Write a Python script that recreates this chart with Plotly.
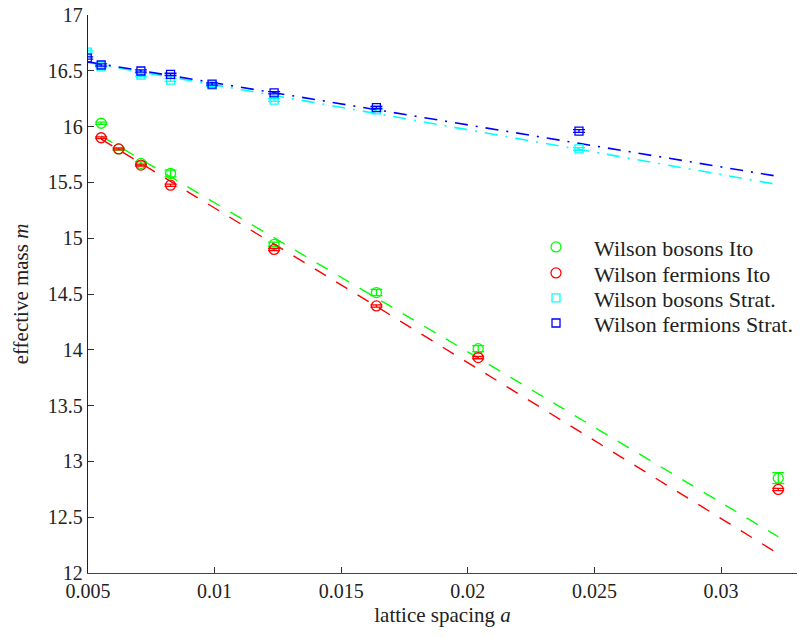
import plotly.graph_objects as go

# ---- data ----
a_ito = [0.00552, 0.00621, 0.00709, 0.00826, 0.01235, 0.01639, 0.02041, 0.03226]
m_bosons_ito = [16.03, 15.80, 15.67, 15.58, 14.944, 14.513, 14.01, 12.85]
e_bosons_ito = [0.010, 0.010, 0.015, 0.030, 0.020, 0.028, 0.027, 0.050]
m_fermions_ito = [15.90, 15.80, 15.655, 15.475, 14.899, 14.393, 13.93, 12.749]
e_fermions_ito = [0.008, 0.008, 0.008, 0.010, 0.010, 0.010, 0.010, 0.010]

a_strat = [0.00497, 0.00552, 0.00709, 0.00826, 0.0099, 0.01235, 0.01639, 0.02439]
m_bosons_strat = [16.668, 16.536, 16.462, 16.417, 16.372, 16.238, 16.15, 15.80]
e_bosons_strat = [0.010, 0.010, 0.012, 0.012, 0.012, 0.012, 0.012, 0.012]
m_fermions_strat = [16.614, 16.552, 16.498, 16.468, 16.381, 16.303, 16.17, 15.96]
e_fermions_strat = [0.010, 0.010, 0.010, 0.010, 0.010, 0.010, 0.010, 0.012]

# fit curves
fit_a_bos_ito = [0.00552, 0.01975, 0.03226]
fit_m_bos_ito = [15.916, 14.015, 12.325]
fit_a_fer_ito = [0.00552, 0.01613, 0.03226]
fit_m_fer_ito = [15.888, 14.425, 12.173]
fit_a_bos_strat = [0.005, 0.02309, 0.0322]
fit_m_bos_strat = [16.574, 15.852, 15.482]
fit_a_fer_strat = [0.005, 0.02285, 0.0322]
fit_m_fer_strat = [16.58, 15.909, 15.556]

x_ticks = [0.005, 0.01, 0.015, 0.02, 0.025, 0.03]
x_tick_text = ["0.005", "0.01", "0.015", "0.02", "0.025", "0.03"]
y_ticks = [12, 12.5, 13, 13.5, 14, 14.5, 15, 15.5, 16, 16.5, 17]
y_tick_text = ["12", "12.5", "13", "13.5", "14", "14.5", "15", "15.5", "16", "16.5", "17"]

labels = ["Wilson bosons Ito", "Wilson fermions Ito", "Wilson bosons Strat.", "Wilson fermions Strat."]
colors = ["#00ff00", "#ff0000", "#00ffff", "#0000ff"]
legend_ids = ["legend", "legend2", "legend3", "legend4"]

FONT = "Liberation Serif"
TXT = "#222222"
fig = go.Figure()

# fit lines
fig.add_trace(go.Scatter(x=fit_a_bos_ito, y=fit_m_bos_ito, mode="lines", showlegend=False,
                         line=dict(color=colors[0], width=1.4, dash="13px,12px"), hoverinfo="skip"))
fig.add_trace(go.Scatter(x=fit_a_fer_ito, y=fit_m_fer_ito, mode="lines", showlegend=False,
                         line=dict(color=colors[1], width=1.4, dash="13px,12px"), hoverinfo="skip"))
fig.add_trace(go.Scatter(x=fit_a_bos_strat, y=fit_m_bos_strat, mode="lines", showlegend=False,
                         line=dict(color=colors[2], width=1.6, dash="13px,8px,2px,8px"), hoverinfo="skip"))
fig.add_trace(go.Scatter(x=fit_a_fer_strat, y=fit_m_fer_strat, mode="lines", showlegend=False,
                         line=dict(color=colors[3], width=1.6, dash="13px,8px,2px,8px"), hoverinfo="skip"))

series = [
    (a_ito, m_bosons_ito, e_bosons_ito, "circle-open", 10),
    (a_ito, m_fermions_ito, e_fermions_ito, "circle-open", 10),
    (a_strat, m_bosons_strat, e_bosons_strat, "square-open", 8),
    (a_strat, m_fermions_strat, e_fermions_strat, "square-open", 8),
]
for (xs, ys, es, sym, sz), name, col, lg in zip(series, labels, colors, legend_ids):
    fig.add_trace(go.Scatter(
        x=xs, y=ys, mode="markers", name=name, legend=lg,
        marker=dict(symbol=sym, size=sz, color=col, line=dict(color=col, width=1.3)),
        error_y=dict(type="data", array=es, visible=True, color=col, thickness=1.3, width=6),
    ))

legend_y = [0.584, 0.5374, 0.4926, 0.4477]
legend_common = dict(x=0.6065, xanchor="left", yanchor="middle",
                     bgcolor="rgba(0,0,0,0)", borderwidth=0,
                     font=dict(family=FONT, size=22, color=TXT), itemwidth=66)

fig.update_layout(
    width=806, height=637,
    margin=dict(l=80, r=17, t=7, b=72, autoexpand=False),
    paper_bgcolor="white", plot_bgcolor="white",
    font=dict(family=FONT, size=20, color=TXT),
    showlegend=True,
    legend=dict(y=legend_y[0], **legend_common),
    legend2=dict(y=legend_y[1], **legend_common),
    legend3=dict(y=legend_y[2], **legend_common),
    legend4=dict(y=legend_y[3], **legend_common),
    xaxis=dict(range=[0.005, 0.0330], tickvals=x_ticks, ticktext=x_tick_text,
               ticks="inside", ticklen=6, tickcolor="#333333", tickwidth=1,
               showline=True, linecolor="#444444", linewidth=1.3, mirror=False,
               showgrid=False, zeroline=False, automargin=False,
               ticklabeloverflow="allow",
               title=dict(text="lattice spacing <i>a</i>", font=dict(family=FONT, size=21), standoff=6),
               tickfont=dict(family=FONT, size=20)),
    yaxis=dict(range=[12, 17], tickvals=y_ticks, ticktext=y_tick_text,
               ticks="inside", ticklen=6, tickcolor="#333333", tickwidth=1,
               showline=True, linecolor="#222222", linewidth=1.3, mirror=False,
               showgrid=False, zeroline=False, automargin=False,
               ticklabeloverflow="allow",
               tickfont=dict(family=FONT, size=20)),
    annotations=[dict(text="effective mass <i>m</i>", textangle=-90,
                      xref="paper", yref="paper", x=-0.094, y=0.5,
                      xanchor="center", yanchor="middle", showarrow=False,
                      font=dict(family=FONT, size=21, color=TXT))],
)

fig.write_html("out.html")
